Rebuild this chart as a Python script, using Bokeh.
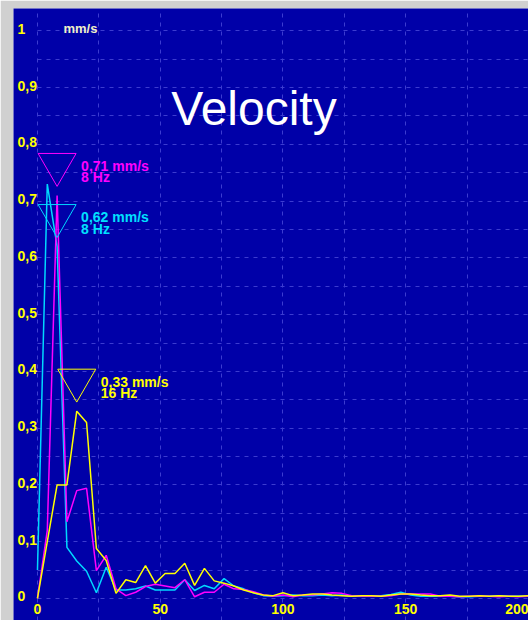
from bokeh.plotting import figure
from bokeh.models import ColumnDataSource, FixedTicker, SingleIntervalTicker, Label
from bokeh.core.properties import value
from bokeh.embed import file_html
from bokeh.resources import INLINE

# ---------------- data ----------------
freq = list(range(0, 201, 4))  # frequency bins, Hz

magenta = [0.0, 0.12, 0.71, 0.135, 0.19, 0.194, 0.049, 0.076, 0.017, 0.005, 0.011, 0.021,
           0.025, 0.022, 0.019, 0.033, 0.003, 0.011, 0.011, 0.025, 0.017, 0.016, 0.012,
           0.006, 0.004, 0.006, 0.003, 0.006, 0.006, 0.008, 0.010, 0.009, 0.005, 0.004,
           0.004, 0.004, 0.005, 0.008, 0.008, 0.008, 0.008, 0.004, 0.004, 0.003, 0.004,
           0.004, 0.004, 0.003, 0.004, 0.003, 0.004]
cyan = [0.05, 0.73, 0.62, 0.09, 0.066, 0.048, 0.010, 0.055, 0.015, 0.015, 0.017, 0.022,
        0.015, 0.015, 0.015, 0.033, 0.014, 0.023, 0.017, 0.035, 0.022, 0.017, 0.010,
        0.005, 0.004, 0.005, 0.006, 0.005, 0.005, 0.006, 0.005, 0.006, 0.004, 0.004,
        0.004, 0.005, 0.007, 0.011, 0.006, 0.004, 0.004, 0.004, 0.004, 0.003, 0.003,
        0.004, 0.004, 0.005, 0.004, 0.004, 0.004]
yellow = [0.0, 0.10, 0.20, 0.20, 0.33, 0.31, 0.088, 0.067, 0.009, 0.033, 0.028, 0.058,
          0.027, 0.044, 0.044, 0.062, 0.023, 0.053, 0.031, 0.027, 0.022, 0.015, 0.010,
          0.006, 0.005, 0.010, 0.005, 0.006, 0.008, 0.008, 0.006, 0.005, 0.004, 0.005,
          0.005, 0.004, 0.006, 0.008, 0.008, 0.006, 0.005, 0.005, 0.006, 0.004, 0.004,
          0.005, 0.004, 0.005, 0.004, 0.004, 0.005]

peak_freq = [8, 8, 16]
peak_value = [0.71, 0.62, 0.33]

ytick_values = [0, 0.1, 0.2, 0.3, 0.4, 0.5, 0.6, 0.7, 0.8, 0.9, 1.0]
ytick_labels = ["0", "0,1", "0,2", "0,3", "0,4", "0,5", "0,6", "0,7", "0,8", "0,9", "1"]
xtick_values = [0, 50, 100, 150, 200]
xtick_labels = ["0", "50", "100", "150", "200"]

unit_text = "mm/s"
title_text = "Velocity"

# ---------------- style ----------------
BG = "#0000A8"
GRID = "#3c3cd0"
C_MAG = "#ff00ff"
C_CYAN = "#00d8ff"
C_YEL = "#ffff00"
TICK_COL = "#ffff00"
FONT = "Liberation Sans"
marker_lift = 0.0546  # triangle centre above the peak (data units)

p = figure(width=528, height=620, x_range=(-9.76, 200.0), y_range=(-0.0388, 1.0393),
           output_backend="svg", toolbar_location=None,
           min_border_left=13, min_border_right=0, min_border_top=8, min_border_bottom=0,
           background_fill_color=BG, border_fill_color="#d0d0d0", outline_line_color=None)

# grids
p.xgrid.ticker = SingleIntervalTicker(interval=25, num_minor_ticks=0)
p.ygrid.ticker = SingleIntervalTicker(interval=0.05, num_minor_ticks=0)
p.grid.grid_line_color = GRID
p.grid.grid_line_dash = "4 5"
p.grid.grid_line_width = 1
p.ygrid[0].cross_bounds = (0, 200)

# x axis drawn inside the frame at y = 0
xa = p.xaxis[0]
xa.fixed_location = 0
xa.ticker = FixedTicker(ticks=xtick_values)
xa.major_label_overrides = dict(zip(xtick_values, xtick_labels))
xa.axis_line_color = None
xa.major_tick_line_color = None
xa.minor_tick_line_color = None
xa.major_tick_out = 0
xa.major_tick_in = 0
xa.major_label_text_color = TICK_COL
xa.major_label_text_font = FONT
xa.major_label_text_font_style = "bold"
xa.major_label_text_font_size = "14px"
xa.major_label_standoff = 6

# y axis: ticks fixed, labels written left-aligned inside the frame
ya = p.yaxis[0]
ya.fixed_location = 0
ya.ticker = FixedTicker(ticks=ytick_values)
ya.visible = False
p.text(x=0, y=ytick_values, text=ytick_labels, x_offset=-20, y_offset=-2,
       text_font=value(FONT), text_font_style="bold", text_font_size="14px",
       text_color=TICK_COL, text_align="left", text_baseline="middle")

# spectra
p.line(freq, cyan, line_color=C_CYAN, line_width=1.5)
p.line(freq, magenta, line_color=C_MAG, line_width=1.5)
p.line(freq, yellow, line_color=C_YEL, line_width=1.5)

# peak markers
colors = [C_MAG, C_CYAN, C_YEL]
text_colors = [C_MAG, "#00e0ff", C_YEL]
src = ColumnDataSource(dict(
    f=peak_freq,
    v=peak_value,
    vm=[v + marker_lift for v in peak_value],
    color=colors,
    tcolor=text_colors,
    l1=[("%.2f" % v).replace(".", ",") + " mm/s" for v in peak_value],
    l2=["%d Hz" % f for f in peak_freq],
))
p.scatter(x="f", y="vm", source=src, marker="inverted_triangle", size=38,
          fill_color=None, line_color="color", line_width=1)
p.text(x="f", y="v", text="l1", source=src, x_offset=24, y_offset=-29.5,
       text_font=value(FONT), text_font_style="bold", text_font_size="14px",
       text_color="tcolor", text_baseline="middle", text_align="left")
p.text(x="f", y="v", text="l2", source=src, x_offset=24, y_offset=-18,
       text_font=value(FONT), text_font_style="bold", text_font_size="14px",
       text_color="tcolor", text_baseline="middle", text_align="left")

# unit and title
p.add_layout(Label(x=10.6, y=1.004, text=unit_text, text_font=FONT, text_font_style="bold",
                   text_font_size="13px", text_color="#f0f0c8", text_baseline="middle"))
p.add_layout(Label(x=54.5, y=0.864, text=title_text, text_font=FONT,
                   text_font_size="48px", text_color="white", text_baseline="middle"))

open("out.html", "w").write(file_html(p, INLINE))
